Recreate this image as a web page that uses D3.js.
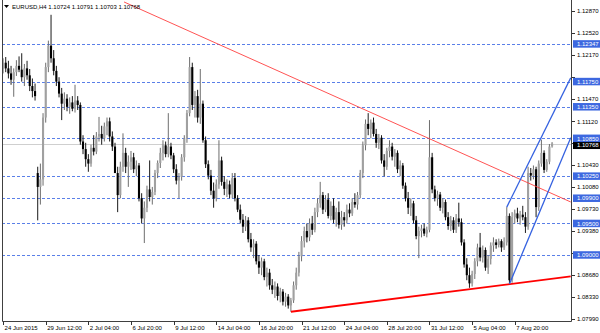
<!DOCTYPE html>
<html>
<head>
<meta charset="utf-8">
<script src="https://cdn.jsdelivr.net/npm/d3@7/dist/d3.min.js"></script>
<style>
  html, body { margin: 0; padding: 0; background: #fff; }
  svg text { font-family: "Liberation Sans", Arial, sans-serif; font-size: 6px; }
</style>
</head>
<body>
<div id="chart"></div>
<script>
// EURUSD H4 bars (open / high / low / close)
var opens = [
  1.1195,1.1205,1.1196,1.1188,1.1178,1.1190,1.1200,1.1194,1.1182,1.1196,1.1185,1.1168,1.1160,1.1030,1.1008,1.1020,1.1118,1.1198,1.1232,1.1212,
  1.1192,1.1175,1.1156,1.1140,1.1148,1.1135,1.1142,1.1132,1.1145,1.1138,1.1080,1.1068,1.1052,1.1045,1.1070,1.1064,1.1088,1.1092,1.1085,1.1104,
  1.1112,1.1088,1.1072,1.1030,1.0995,1.1040,1.1062,1.1040,1.1048,1.1055,1.1036,1.1042,1.0990,1.0958,1.0975,1.1004,1.0992,1.1000,1.1030,1.1046,
  1.1062,1.1074,1.1060,1.1072,1.1058,1.1036,1.1018,1.1024,1.1055,1.1085,1.1125,1.1198,1.1138,1.1152,1.1118,1.1140,1.1082,1.1044,1.1026,1.1002,
  1.0990,1.1012,1.1050,1.1016,1.1005,1.1012,1.0996,1.1022,1.0990,1.0972,1.0956,1.0945,1.0955,1.0925,1.0912,1.0918,1.0890,1.0880,1.0890,1.0865,
  1.0872,1.0852,1.0845,1.0850,1.0835,1.0842,1.0826,1.0834,1.0820,1.0828,1.0852,1.0872,1.0898,1.0922,1.0938,1.0928,1.0950,1.0940,1.0968,1.0982,
  1.0995,1.0972,1.0988,1.0962,1.0978,1.0956,1.0968,1.0948,1.0960,1.0955,1.0972,1.0966,1.0984,1.0980,1.0995,1.1030,1.1074,1.1108,1.1100,1.1110,
  1.1092,1.1078,1.1086,1.1050,1.1040,1.1065,1.1072,1.1056,1.1062,1.1036,1.1042,1.1010,1.0990,1.0975,1.0982,1.0955,1.0930,1.0938,1.0942,1.0934,
  1.0940,1.1055,1.1004,1.0990,1.0996,1.0975,1.0984,1.0960,1.0946,1.0955,1.0940,1.0958,1.0952,1.0920,1.0885,1.0868,1.0855,1.0870,1.0890,1.0912,
  1.0896,1.0908,1.0880,1.0894,1.0915,1.0920,1.0916,1.0922,1.0912,1.0920,1.0962,1.0860,1.0960,1.0966,1.0958,1.0964,1.0960,1.0945,1.1030,1.1026,
  1.1036,1.0976,1.1045,1.1062,1.1035,1.1048,1.10724
];
var highs = [
  1.1212,1.1214,1.1208,1.1200,1.1196,1.1209,1.1215,1.1220,1.1203,1.1208,1.1195,1.1180,1.1172,1.1040,1.1045,1.1125,1.1205,1.1240,1.1281,1.1225,
  1.1200,1.1182,1.1165,1.1158,1.1155,1.1150,1.1152,1.1170,1.1152,1.1142,1.1090,1.1078,1.1060,1.1075,1.1090,1.1095,1.1119,1.1105,1.1110,1.1118,
  1.1118,1.1096,1.1078,1.1040,1.1048,1.1093,1.1070,1.1058,1.1065,1.1062,1.1050,1.1046,1.0998,1.0985,1.1010,1.1050,1.1008,1.1035,1.1050,1.1070,
  1.1082,1.1080,1.1125,1.1078,1.1062,1.1044,1.1030,1.1060,1.1090,1.1130,1.1214,1.1205,1.1160,1.1162,1.1195,1.1145,1.1088,1.1050,1.1035,1.1015,
  1.1020,1.1082,1.1056,1.1025,1.1020,1.1018,1.1030,1.1030,1.0995,1.0980,1.0965,1.0962,1.0960,1.0935,1.0925,1.0922,1.0900,1.0896,1.0894,1.0880,
  1.0878,1.0862,1.0858,1.0855,1.0848,1.0846,1.0840,1.0838,1.0832,1.0858,1.0880,1.0905,1.0930,1.0945,1.0950,1.0958,1.0962,1.0975,1.0990,1.1016,
  1.1000,1.0995,1.0998,1.0985,1.0990,1.0975,1.0985,1.0970,1.0968,1.0980,1.0982,1.0990,1.0998,1.1000,1.1035,1.1080,1.1115,1.1125,1.1115,1.1118,
  1.1100,1.1092,1.1090,1.1060,1.1070,1.1082,1.1078,1.1068,1.1066,1.1050,1.1046,1.1015,1.1000,1.0990,1.0986,1.0962,1.0945,1.0948,1.0950,1.0945,
  1.1114,1.1062,1.1010,1.1002,1.1000,1.0990,1.0988,1.0968,1.0962,1.0960,1.0965,1.0983,1.0958,1.0925,1.0895,1.0880,1.0875,1.0895,1.0918,1.0935,
  1.0915,1.0912,1.0900,1.0920,1.0928,1.0925,1.0926,1.0925,1.0928,1.0976,1.0966,1.0968,1.0972,1.0975,1.0970,1.0978,1.0968,1.1040,1.1038,1.1042,
  1.1040,1.1050,1.1083,1.1066,1.1052,1.1076,1.10791
];
var lows = [
  1.1188,1.1190,1.1180,1.1170,1.1151,1.1184,1.1190,1.1175,1.1168,1.1178,1.1160,1.1150,1.1145,1.0955,1.0980,1.1010,1.1110,1.1190,1.1205,1.1185,
  1.1168,1.1150,1.1114,1.1130,1.1128,1.1124,1.1128,1.1126,1.1130,1.1075,1.1060,1.1040,1.1032,1.1040,1.1058,1.1060,1.1080,1.1075,1.1080,1.1090,
  1.1080,1.1065,1.1030,1.0968,1.0990,1.1032,1.1030,1.1008,1.1035,1.1030,1.1025,1.0985,1.0950,1.0919,1.0968,1.0985,1.0980,1.0995,1.1022,1.1038,
  1.1050,1.1055,1.1055,1.1052,1.1030,1.1012,1.0990,1.1018,1.1048,1.1078,1.1120,1.1130,1.1118,1.1110,1.1108,1.1078,1.1038,1.1020,1.0995,1.0975,
  1.0985,1.1005,1.1010,1.0995,1.0992,1.0990,1.0990,1.0985,1.0968,1.0950,1.0935,1.0938,1.0920,1.0905,1.0895,1.0885,1.0870,1.0868,1.0860,1.0850,
  1.0845,1.0838,1.0832,1.0828,1.0825,1.0820,1.0818,1.0815,1.0810,1.0824,1.0845,1.0866,1.0890,1.0912,1.0920,1.0922,1.0932,1.0936,1.0960,1.0975,
  1.0965,1.0968,1.0958,1.0955,1.0950,1.0945,1.0942,1.0940,1.0945,1.0950,1.0960,1.0962,1.0975,1.0972,1.0990,1.1022,1.1066,1.1090,1.1085,1.1088,
  1.1070,1.1068,1.1045,1.1025,1.1035,1.1055,1.1050,1.1040,1.1030,1.1025,1.1005,1.0985,1.0965,1.0962,1.0950,1.0925,1.0895,1.0928,1.0930,1.0928,
  1.0936,1.0998,1.0985,1.0978,1.0970,1.0966,1.0955,1.0940,1.0938,1.0935,1.0935,1.0945,1.0915,1.0880,1.0860,1.0848,1.0850,1.0862,1.0882,1.0890,
  1.0888,1.0875,1.0870,1.0885,1.0905,1.0910,1.0912,1.0905,1.0908,1.0915,1.0854,1.0856,1.0950,1.0952,1.0948,1.0955,1.0935,1.0940,1.1018,1.1020,
  1.0960,1.0970,1.1040,1.1030,1.1032,1.1044,1.10703
];
var closes = [
  1.1205,1.1196,1.1188,1.1178,1.1190,1.1200,1.1194,1.1182,1.1196,1.1185,1.1168,1.1160,1.1152,1.1008,1.1020,1.1118,1.1198,1.1232,1.1212,1.1192,
  1.1175,1.1156,1.1140,1.1148,1.1135,1.1142,1.1132,1.1145,1.1138,1.1080,1.1068,1.1052,1.1045,1.1070,1.1064,1.1088,1.1092,1.1085,1.1104,1.1112,
  1.1088,1.1072,1.1030,1.0995,1.1040,1.1062,1.1040,1.1048,1.1055,1.1036,1.1042,1.0990,1.0958,1.0975,1.1004,1.0992,1.1000,1.1030,1.1046,1.1062,
  1.1074,1.1060,1.1072,1.1058,1.1036,1.1018,1.1024,1.1055,1.1085,1.1125,1.1198,1.1138,1.1152,1.1118,1.1140,1.1082,1.1044,1.1026,1.1002,1.0990,
  1.1012,1.1050,1.1016,1.1005,1.1012,1.0996,1.1022,1.0990,1.0972,1.0956,1.0945,1.0955,1.0925,1.0912,1.0918,1.0890,1.0880,1.0890,1.0865,1.0872,
  1.0852,1.0845,1.0850,1.0835,1.0842,1.0826,1.0834,1.0820,1.0828,1.0852,1.0872,1.0898,1.0922,1.0938,1.0928,1.0950,1.0940,1.0968,1.0982,1.0995,
  1.0972,1.0988,1.0962,1.0978,1.0956,1.0968,1.0948,1.0960,1.0955,1.0972,1.0966,1.0984,1.0980,1.0995,1.1030,1.1074,1.1108,1.1100,1.1110,1.1092,
  1.1078,1.1086,1.1050,1.1040,1.1065,1.1072,1.1056,1.1062,1.1036,1.1042,1.1010,1.0990,1.0975,1.0982,1.0955,1.0930,1.0938,1.0942,1.0934,1.0940,
  1.1055,1.1004,1.0990,1.0996,1.0975,1.0984,1.0960,1.0946,1.0955,1.0940,1.0958,1.0952,1.0920,1.0885,1.0868,1.0855,1.0870,1.0890,1.0912,1.0896,
  1.0908,1.0880,1.0894,1.0915,1.0920,1.0916,1.0922,1.0912,1.0920,1.0962,1.0860,1.0960,1.0966,1.0958,1.0964,1.0960,1.0945,1.1030,1.1026,1.1036,
  1.0976,1.1045,1.1062,1.1035,1.1048,1.1072,1.10768
];

// time axis: bar index -> label
var timeTickIdx = [0, 16, 32, 48, 64, 80, 96, 112, 128, 144, 160, 176, 192];
var timeTickLabels = ["24 Jun 2015", "29 Jun 12:00", "2 Jul 04:00", "6 Jul 20:00", "9 Jul 12:00", "14 Jul 04:00",
  "16 Jul 20:00", "21 Jul 12:00", "24 Jul 04:00", "28 Jul 20:00", "31 Jul 12:00", "5 Aug 04:00", "7 Aug 20:00"];

// price axis
var priceTicks = [1.12870, 1.12520, 1.12170, 1.11820, 1.11470, 1.11120, 1.10770, 1.10430, 1.10080,
  1.09730, 1.09380, 1.09030, 1.08680, 1.08330, 1.07990];

// horizontal levels (blue dashed) and current price
var levels = [1.12347, 1.11750, 1.11350, 1.10850, 1.10250, 1.09900, 1.09500, 1.09000];
var lastPrice = 1.10768;

// trendlines as [bar index, price]
var redThin = [[45.4, 1.13013], [213, 1.09841]];
var redThick = [[108, 1.0810], [213, 1.0866]];
var blueUpper = [[189, 1.0976], [213, 1.1181]];
var blueLower = [[190, 1.0854], [213, 1.1086]];

var header = "EURUSD,H4  1.10724 1.10791 1.10703 1.10768";

var W = 600, H = 333;
var plotL = 2, plotR = 571, plotT = 0, plotB = 321;

var svg = d3.select("#chart").append("svg")
  .attr("width", W).attr("height", H);

var x = d3.scaleLinear().domain([-0.4, 213.1]).range([plotL, plotR]);
var y = d3.scaleLinear().domain([1.0799, 1.1287]).range([318.7, 11]);

svg.append("defs").append("clipPath").attr("id", "plotclip")
  .append("rect").attr("x", plotL).attr("y", plotT)
  .attr("width", plotR - plotL).attr("height", plotB - plotT);

var plot = svg.append("g").attr("clip-path", "url(#plotclip)");

// level lines
plot.selectAll("line.level").data(levels).enter().append("line")
  .attr("class", "level")
  .attr("x1", plotL).attr("x2", plotR)
  .attr("y1", function(d) { return Math.round(y(d)) + 0.5; })
  .attr("y2", function(d) { return Math.round(y(d)) + 0.5; })
  .attr("stroke", "#5a7fe8").attr("stroke-width", 1)
  .attr("stroke-dasharray", "3,2");

plot.append("line")
  .attr("x1", plotL).attr("x2", plotR)
  .attr("y1", Math.round(y(lastPrice)) + 0.5).attr("y2", Math.round(y(lastPrice)) + 0.5)
  .attr("stroke", "#cfcfcf").attr("stroke-width", 1);

// candles
var bars = d3.range(opens.length).map(function(i) {
  return { i: i, o: opens[i], h: highs[i], l: lows[i], c: closes[i] };
});

var g = plot.selectAll("g.bar").data(bars).enter().append("g").attr("class", "bar");

g.append("line")
  .attr("x1", function(d) { return x(d.i); })
  .attr("x2", function(d) { return x(d.i); })
  .attr("y1", function(d) { return y(d.h); })
  .attr("y2", function(d) { return y(d.l); })
  .attr("stroke", function(d) { return d.c > d.o ? "#6e6e6e" : "#1a1a1a"; })
  .attr("stroke-width", 1);

g.append("rect")
  .attr("x", function(d) { return x(d.i) - 1.05; })
  .attr("width", 2.1)
  .attr("y", function(d) { return y(Math.max(d.o, d.c)); })
  .attr("height", function(d) { return Math.max(0.8, Math.abs(y(d.o) - y(d.c))); })
  .attr("fill", function(d) { return d.c > d.o ? "#a0a0a0" : "#000"; });

// trendlines
function seg(pts, color, w) {
  plot.append("line")
    .attr("x1", x(pts[0][0])).attr("y1", y(pts[0][1]))
    .attr("x2", x(pts[1][0])).attr("y2", y(pts[1][1]))
    .attr("stroke", color).attr("stroke-width", w);
}
seg(redThin, "#ff4040", 0.9);
seg(redThick, "#ff0000", 1.8);
seg(blueUpper, "#3461e0", 1.3);
seg(blueLower, "#3461e0", 1.3);

// frame
svg.append("path")
  .attr("d", "M" + (plotL + 0.5) + "," + plotT + "V" + (plotB + 0.5) + "H" + (plotR + 0.5) + "V" + plotT)
  .attr("fill", "none").attr("stroke", "#404040").attr("stroke-width", 1);

// price axis (labels hidden behind a level box are skipped)
var boxed = levels.concat([lastPrice]);
function covered(p) {
  return boxed.some(function(b) { return Math.abs(y(b) - y(p)) < 7; });
}
var pa = svg.append("g");
pa.selectAll("line").data(priceTicks).enter().append("line")
  .attr("x1", plotR + 1).attr("x2", plotR + 4)
  .attr("y1", function(d) { return Math.round(y(d)) + 0.5; })
  .attr("y2", function(d) { return Math.round(y(d)) + 0.5; })
  .attr("stroke", "#333");
pa.selectAll("text").data(priceTicks.filter(function(p) { return !covered(p); })).enter().append("text")
  .attr("x", plotR + 6)
  .attr("y", function(d) { return y(d) + 2.2; })
  .attr("fill", "#000")
  .text(function(d) { return d.toFixed(5); });

// current price box sits just under the 1.10850 box
var lab = svg.append("g");
lab.append("rect")
  .attr("x", plotR + 2).attr("width", 27)
  .attr("y", y(lastPrice) - 2).attr("height", 7.5)
  .attr("fill", "#000");
lab.append("text")
  .attr("x", plotR + 6).attr("y", y(lastPrice) + 3.8)
  .attr("fill", "#fff")
  .text(lastPrice.toFixed(5));

var lv = lab.selectAll("g").data(levels).enter().append("g");
lv.append("rect")
  .attr("x", plotR + 2).attr("width", 27)
  .attr("y", function(d) { return y(d) - 3.8; }).attr("height", 7.5)
  .attr("fill", "#3d68e0");
lv.append("text")
  .attr("x", plotR + 6).attr("y", function(d) { return y(d) + 2.2; })
  .attr("fill", "#fff")
  .text(function(d) { return d.toFixed(5); });

// time axis
var ta = svg.append("g");
ta.selectAll("line").data(timeTickIdx).enter().append("line")
  .attr("x1", function(d) { return Math.round(x(d)) + 0.5; })
  .attr("x2", function(d) { return Math.round(x(d)) + 0.5; })
  .attr("y1", plotB).attr("y2", plotB + 4)
  .attr("stroke", "#333");
ta.selectAll("text").data(timeTickIdx).enter().append("text")
  .attr("x", function(d) { return x(d) + 1.5; })
  .attr("y", plotB + 8.5)
  .attr("fill", "#000")
  .text(function(d, i) { return timeTickLabels[i]; });

// header
svg.append("path").attr("d", "M4,5 L9,5 L6.5,8 Z").attr("fill", "#000");
svg.append("text").attr("x", 12).attr("y", 9).attr("fill", "#000").text(header);
</script>
</body>
</html>
